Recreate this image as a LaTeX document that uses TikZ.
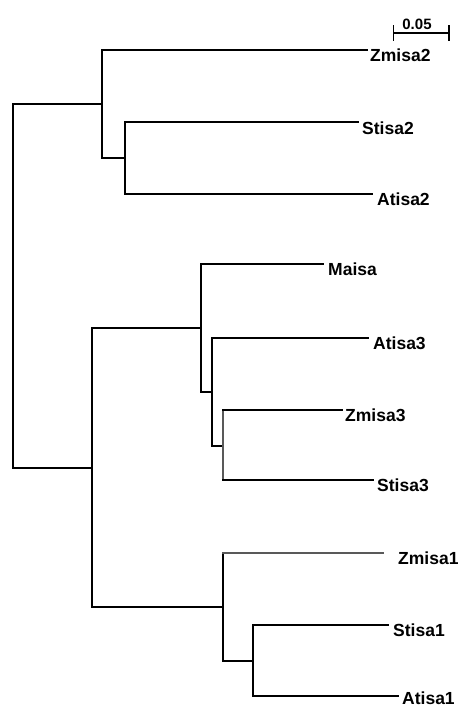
\documentclass[tikz,border=0pt]{standalone}
\usepackage{fontspec}
\setmainfont{Liberation Sans}
\begin{document}
\begin{tikzpicture}[x=1pt,y=-1pt,
  thk/.style={line width=2.8pt,line cap=rect},
  med/.style={line width=1.9pt,line cap=rect},
  thn/.style={line width=1.1pt,line cap=rect},
  gry/.style={line width=1.1pt,draw=black!65,line cap=rect},
  leaf/.style={anchor=north west,inner sep=0pt,font=\fontsize{17.5}{17.5}\bfseries\selectfont},
  scl/.style={anchor=south,inner sep=0pt,font=\fontsize{15}{15}\bfseries\selectfont}]
\useasboundingbox (0,0) rectangle (458,709);
% internal nodes
\coordinate (root) at (13,104);
\coordinate (rootb) at (13,468);
\coordinate (A) at (102,104);
\coordinate (A1) at (102,158);
\coordinate (B) at (125,158);
\coordinate (C) at (92,468);
\coordinate (C1) at (92,328);
\coordinate (C2) at (92,607);
\coordinate (D) at (201,328);
\coordinate (D1) at (201,392);
\coordinate (E) at (212,392);
\coordinate (E1) at (212,446);
\coordinate (F) at (223,446);
\coordinate (G) at (223,607);
\coordinate (G1) at (223,661);
\coordinate (H) at (253,661);
% branch ends
\coordinate (eZ2) at (367,50);
\coordinate (eS2) at (358,122);
\coordinate (eA2) at (372,194);
\coordinate (eMa) at (323,264);
\coordinate (eA3) at (368,338);
\coordinate (eZ3) at (342,410);
\coordinate (eS3) at (373,480);
\coordinate (eZ1) at (383,553);
\coordinate (eS1) at (388,625);
\coordinate (eA1) at (398,696);
% labels
\node[leaf] (Z2) at (370,49) {Zmisa2};
\node[leaf] (S2) at (362,122) {Stisa2};
\node[leaf] (A2) at (377,193) {Atisa2};
\node[leaf] (Ma) at (328,263) {Maisa};
\node[leaf] (A3) at (373,337) {Atisa3};
\node[leaf] (Z3) at (345,409) {Zmisa3};
\node[leaf] (S3) at (377,479) {Stisa3};
\node[leaf] (Z1) at (398,552) {Zmisa1};
\node[leaf] (S1) at (393,624) {Stisa1};
\node[leaf] (A1l) at (402,692) {Atisa1};
% root
\draw[thk] (root) -- (rootb);
\draw[thk] (root) -- (A);
\draw[thk] (rootb) -- (C);
% top clade
\draw[med] (A |- eZ2) -- (A1);
\draw[thn] (A |- eZ2) -- (eZ2);
\draw[thk] (A1) -- (B);
\draw[med] (B |- eS2) -- (B |- eA2);
\draw[thk] (B |- eS2) -- (eS2);
\draw[thn] (B |- eA2) -- (eA2);
% middle clade
\draw[thk] (C1) -- (C2);
\draw[thk] (C1) -- (D);
\draw[thn] (D |- eMa) -- (D1);
\draw[med] (D |- eMa) -- (eMa);
\draw[med] (D1) -- (E);
\draw[thk] (E |- eA3) -- (E1);
\draw[thk] (E |- eA3) -- (eA3);
\draw[thk] (E1) -- (F);
\draw[gry] (F |- eZ3) -- (F |- eS3);
\draw[thk] (F |- eZ3) -- (eZ3);
\draw[thk] (F |- eS3) -- (eS3);
% bottom clade
\draw[med] (C2) -- (G);
\draw[med] (G |- eZ1) -- (G1);
\draw[gry] (G |- eZ1) -- (eZ1);
\draw[thk] (G1) -- (H);
\draw[thk] (H |- eS1) -- (H |- eA1);
\draw[thk] (H |- eS1) -- (eS1);
\draw[thk] (H |- eA1) -- (eA1);
% scale bar
\coordinate (sbl) at (393,33);
\coordinate (sbr) at (449,33);
\draw[line width=1.3pt] (sbl) -- (sbr);
\draw[line width=1pt] ([yshift=-8pt]sbl) -- ([yshift=8pt]sbl);
\draw[line width=1.6pt] ([yshift=-8pt]sbr) -- ([yshift=8pt]sbr);
\node[scl] (sbt) at (417,30) {0.05};
\end{tikzpicture}
\end{document}
